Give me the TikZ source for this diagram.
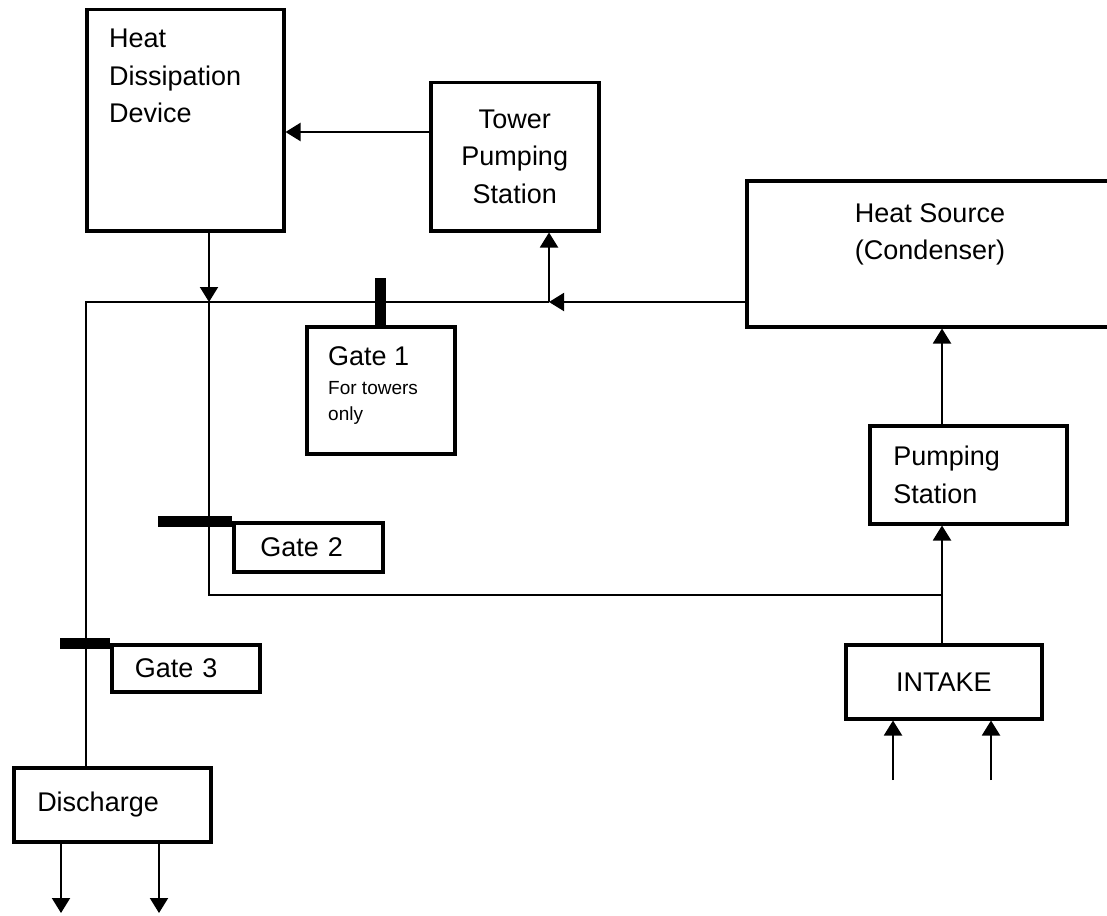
\documentclass[tikz,border=0pt]{standalone}
\usepackage{fontspec}
\setmainfont{Liberation Sans}
\usepackage{tikz}
\usetikzlibrary{arrows.meta,positioning,calc}
\newcommand{\smalltxt}{\fontsize{19}{26}\selectfont}
\tikzstyle{box}=[rectangle, draw=black, line width=3.5pt, inner sep=0pt, anchor=north west, font=\fontsize{27}{37.5}\selectfont]
\tikzstyle{txt}=[inner sep=0pt, align=left, font=\fontsize{27}{37.5}\selectfont]
\tikzstyle{pipe}=[line width=2pt]
\tikzstyle{flow}=[line width=2pt, -{Triangle[width=18pt,length=15pt]}]
\tikzstyle{gatebar}=[line width=11pt]

\begin{document}
\begin{tikzpicture}[x=1pt,y=-1pt]
		\useasboundingbox (0,0) rectangle (1107,915);
		\node[box, minimum width=197, minimum height=221] (HDD) at (85,8) {};
		\node[box, minimum width=168, minimum height=148, align=center] (TPS) at (429,81) {Tower\\Pumping\\Station};
		\node[box, minimum width=370, minimum height=146] (HS) at (745,179) {};
		\node[box, minimum width=197, minimum height=98, text width=150, align=left] (PS) at (868,424) {Pumping\\Station};
		\node[box, minimum width=196, minimum height=74] (IN) at (844,643) {INTAKE};
		\node[box, minimum width=148, minimum height=127] (G1) at (305,325) {};
		\node[box, minimum width=149, minimum height=49, text width=96, align=left] (G2) at (232,521) {Gate 2};
		\node[box, minimum width=148, minimum height=47, text width=102, align=left] (G3) at (110,643) {Gate 3};
		\node[box, minimum width=197, minimum height=74, text width=150, align=left] (DIS) at (12,766) {Discharge};
		\node[txt, anchor=north west] (HDDt) at (109,29) {Heat\\Dissipation\\Device};
		\node[txt, anchor=north, align=center] (HSt) at (930,203) {Heat Source\\(Condenser)};
		\node[txt, anchor=north west] (G1t) at (328,346) {Gate 1\\[-8.5pt]{\smalltxt For towers}\\[-11.5pt]{\smalltxt only}};
		
		\coordinate (J1) at (86,302);
		\coordinate (J2) at (209,302);
		\coordinate (J3) at (549,302);
		\coordinate (J4) at (209,595);
		\coordinate (J5) at (942,595);
		\coordinate (T1) at (429,132);
		\coordinate (I1) at (893,780);
		\coordinate (I2) at (991,780);
		\coordinate (D1) at (61,913);
		\coordinate (D2) at (159,913);
		
	\draw[flow](T1)--(T1 -| HDD.east);
	\draw[flow](J3 -| HS.west)--(J3);
	\draw[flow](J3)--(J3 |- TPS.south);
	\draw[pipe](J3)--(J1)--(J1 |- DIS.north);
	\draw[flow](J2 |- HDD.south)--(J2);
	\draw[pipe](J2)--(J4)--(J5);
	\draw[pipe](J5 |- IN.north)--(J5);
	\draw[flow](J5)--(J5 |- PS.south);
	\draw[flow](J5 |- PS.north)--(J5 |- HS.south);
	\draw[flow](I1)--(I1 |- IN.south);
	\draw[flow](I2)--(I2 |- IN.south);
	\draw[flow](D1 |- DIS.south)--(D1);
	\draw[flow](D2 |- DIS.south)--(D2);
	\draw[gatebar](G1.north)--++(0,-47);
	\draw[gatebar](G2.north west)--++(-74,0);
	\draw[gatebar](G3.north west)--++(-50,0);
	\end{tikzpicture}
\end{document}
